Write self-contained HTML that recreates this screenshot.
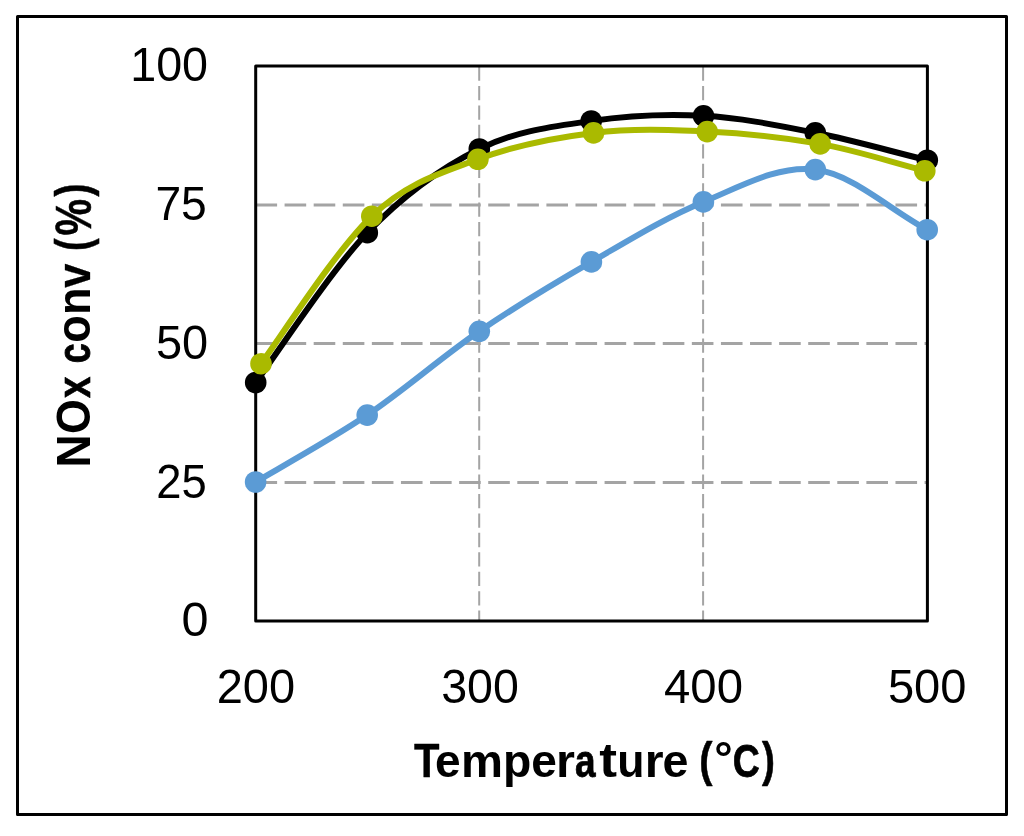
<!DOCTYPE html>
<html lang="en"><head><meta charset="utf-8"><title>NOx conversion vs temperature</title>
<style>
html,body{margin:0;padding:0;background:#fff;}
body{width:1024px;height:836px;overflow:hidden;font-family:"Liberation Sans",sans-serif;}
svg{display:block;}
svg text{font-family:"Liberation Sans",sans-serif;fill:#000;}
</style></head>
<body>
<svg width="1024" height="836" viewBox="0 0 1024 836">
<rect x="0" y="0" width="1024" height="836" fill="#fff"/>
<rect x="17.5" y="16.4" width="989" height="798.1" fill="none" stroke="#000" stroke-width="3" stroke-linejoin="round"/>
<g stroke="#a4a4a4" fill="none">
<line x1="255.50" y1="482.40" x2="927.40" y2="482.40" stroke-width="3" stroke-dasharray="21.6 7.49"/>
<line x1="255.50" y1="343.55" x2="927.40" y2="343.55" stroke-width="3" stroke-dasharray="21.6 7.49"/>
<line x1="255.50" y1="205.05" x2="927.40" y2="205.05" stroke-width="3" stroke-dasharray="21.6 7.49"/>
<line x1="479.20" y1="66.55" x2="479.20" y2="621.10" stroke-width="2" stroke-dasharray="14.3 5.13"/>
<line x1="703.10" y1="66.55" x2="703.10" y2="621.10" stroke-width="2" stroke-dasharray="14.3 5.13"/>
</g>
<rect x="255.70" y="66.10" width="671.70" height="555.00" fill="none" stroke="#000" stroke-width="3" stroke-linejoin="round"/>
<path d="M255.70,382.50 C274.30,357.53 330.03,271.62 367.30,232.70 C404.57,193.78 441.98,167.62 479.30,149.00 C516.62,130.38 553.83,126.53 591.20,121.00 C628.57,115.47 666.15,113.83 703.50,115.80 C740.85,117.77 778.00,125.40 815.30,132.80 C852.60,140.20 890.34,151.16 927.30,160.20" fill="none" stroke="#000000" stroke-width="6" stroke-linecap="round" stroke-linejoin="round"/>
<circle cx="255.70" cy="382.50" r="10.8" fill="#000000"/>
<circle cx="367.30" cy="232.70" r="10.8" fill="#000000"/>
<circle cx="479.30" cy="149.00" r="10.8" fill="#000000"/>
<circle cx="591.20" cy="121.00" r="10.8" fill="#000000"/>
<circle cx="703.50" cy="115.80" r="10.8" fill="#000000"/>
<circle cx="815.30" cy="132.80" r="10.8" fill="#000000"/>
<circle cx="927.30" cy="160.20" r="10.8" fill="#000000"/>
<path d="M261.00,363.70 C279.47,339.12 335.65,250.27 371.80,216.20 C407.95,182.13 440.95,173.18 477.90,159.30 C514.85,145.42 555.28,137.52 593.50,132.90 C631.72,128.28 669.42,129.77 707.20,131.60 C744.98,133.43 783.93,137.37 820.20,143.90 C856.47,150.43 890.28,161.92 924.80,170.80" fill="none" stroke="#aaba00" stroke-width="6" stroke-linecap="round" stroke-linejoin="round"/>
<circle cx="261.00" cy="363.70" r="10.8" fill="#aaba00"/>
<circle cx="371.80" cy="216.20" r="10.8" fill="#aaba00"/>
<circle cx="477.90" cy="159.30" r="10.8" fill="#aaba00"/>
<circle cx="593.50" cy="132.90" r="10.8" fill="#aaba00"/>
<circle cx="707.20" cy="131.60" r="10.8" fill="#aaba00"/>
<circle cx="820.20" cy="143.90" r="10.8" fill="#aaba00"/>
<circle cx="924.80" cy="170.80" r="10.8" fill="#aaba00"/>
<path d="M255.60,482.00 C274.20,470.85 329.92,440.22 367.20,415.10 C404.48,389.98 441.93,356.83 479.30,331.30 C516.67,305.77 554.05,283.47 591.40,261.90 C628.75,240.33 666.08,217.28 703.40,201.90 C740.72,186.52 778.00,164.97 815.30,169.60 C852.60,174.23 890.27,209.87 927.20,229.70" fill="none" stroke="#5b9bd5" stroke-width="6" stroke-linecap="round" stroke-linejoin="round"/>
<circle cx="255.60" cy="482.00" r="10.8" fill="#5b9bd5"/>
<circle cx="367.20" cy="415.10" r="10.8" fill="#5b9bd5"/>
<circle cx="479.30" cy="331.30" r="10.8" fill="#5b9bd5"/>
<circle cx="591.40" cy="261.90" r="10.8" fill="#5b9bd5"/>
<circle cx="703.40" cy="201.90" r="10.8" fill="#5b9bd5"/>
<circle cx="815.30" cy="169.60" r="10.8" fill="#5b9bd5"/>
<circle cx="927.20" cy="229.70" r="10.8" fill="#5b9bd5"/>
<g style="filter:grayscale(1)">
<text transform="translate(130.198,80.521) scale(0.9744,1.0000)" font-size="47.915" font-weight="normal">100</text>
<text transform="translate(155.375,219.920) scale(0.9618,1.0000)" font-size="48.029" font-weight="normal">75</text>
<text transform="translate(155.921,358.618) scale(0.9746,1.0000)" font-size="48.198" font-weight="normal">50</text>
<text transform="translate(156.230,497.522) scale(0.9501,1.0000)" font-size="47.774" font-weight="normal">25</text>
<text transform="translate(181.557,636.222) scale(1.0170,1.0000)" font-size="47.774" font-weight="normal">0</text>
<text transform="translate(216.649,702.825) scale(0.9902,1.0000)" font-size="47.491" font-weight="normal">200</text>
<text transform="translate(441.153,702.825) scale(0.9811,1.0000)" font-size="47.491" font-weight="normal">300</text>
<text transform="translate(664.035,702.825) scale(0.9968,1.0000)" font-size="47.491" font-weight="normal">400</text>
<text transform="translate(887.916,702.825) scale(0.9919,1.0000)" font-size="47.491" font-weight="normal">500</text>
<text transform="translate(413.888,776.995) scale(0.8683,0.9906)" font-size="48.000" font-weight="bold" stroke="#000" stroke-width="0.41" stroke-linejoin="round" vector-effect="non-scaling-stroke">T</text>
<text transform="translate(435.060,777.232) scale(0.9585,0.9741)" font-size="48.000" font-weight="bold">e</text>
<text transform="translate(460.931,777.200) scale(0.9836,0.9729)" font-size="48.000" font-weight="bold">m</text>
<text transform="translate(502.888,776.806) scale(0.9653,0.9532)" font-size="48.000" font-weight="bold">p</text>
<text transform="translate(531.160,777.232) scale(0.9585,0.9741)" font-size="48.000" font-weight="bold">e</text>
<text transform="translate(555.934,777.200) scale(1.0148,0.9729)" font-size="48.000" font-weight="bold">r</text>
<text transform="translate(574.946,776.890) scale(0.7703,0.9471)" font-size="48.000" font-weight="bold" stroke="#000" stroke-width="0.71" stroke-linejoin="round" vector-effect="non-scaling-stroke">a</text>
<text transform="translate(599.133,777.345) scale(1.1111,0.9848)" font-size="48.000" font-weight="bold">t</text>
<text transform="translate(617.315,777.233) scale(0.9283,0.9729)" font-size="48.000" font-weight="bold">u</text>
<text transform="translate(644.655,777.200) scale(1.0081,0.9729)" font-size="48.000" font-weight="bold">r</text>
<text transform="translate(662.535,777.232) scale(0.9715,0.9741)" font-size="48.000" font-weight="bold">e</text>
<text transform="translate(699.154,775.831) scale(0.8274,0.9969)" font-size="48.000" font-weight="bold" stroke="#000" stroke-width="0.48" stroke-linejoin="round" vector-effect="non-scaling-stroke">(</text>
<text transform="translate(714.326,772.964) scale(0.9600,0.9282)" font-size="48.000" font-weight="bold">°</text>
<text transform="translate(732.748,776.886) scale(0.7796,0.9779)" font-size="48.000" font-weight="bold" stroke="#000" stroke-width="0.69" stroke-linejoin="round" vector-effect="non-scaling-stroke">C</text>
<text transform="translate(761.968,775.817) scale(0.8088,0.9958)" font-size="48.000" font-weight="bold" stroke="#000" stroke-width="0.53" stroke-linejoin="round" vector-effect="non-scaling-stroke">)</text>
<text transform="translate(90.100,467.502) rotate(-90) scale(0.9574,0.9970)" font-size="48.000" font-weight="bold">N</text>
<text transform="translate(90.412,433.890) rotate(-90) scale(0.9323,1.0159)" font-size="48.000" font-weight="bold">O</text>
<text transform="translate(89.895,398.084) rotate(-90) scale(0.8021,0.9633)" font-size="48.000" font-weight="bold" stroke="#000" stroke-width="0.61" stroke-linejoin="round" vector-effect="non-scaling-stroke">x</text>
<text transform="translate(90.048,363.139) rotate(-90) scale(0.7444,0.9635)" font-size="48.000" font-weight="bold" stroke="#000" stroke-width="0.78" stroke-linejoin="round" vector-effect="non-scaling-stroke">c</text>
<text transform="translate(90.423,342.710) rotate(-90) scale(0.9429,0.9932)" font-size="48.000" font-weight="bold">o</text>
<text transform="translate(90.100,314.922) rotate(-90) scale(0.9364,0.9806)" font-size="48.000" font-weight="bold">n</text>
<text transform="translate(89.950,287.667) rotate(-90) scale(0.9021,0.9716)" font-size="48.000" font-weight="bold" stroke="#000" stroke-width="0.30" stroke-linejoin="round" vector-effect="non-scaling-stroke">v</text>
<text transform="translate(88.803,250.906) rotate(-90) scale(0.7902,0.9946)" font-size="48.000" font-weight="bold" stroke="#000" stroke-width="0.58" stroke-linejoin="round" vector-effect="non-scaling-stroke">(</text>
<text transform="translate(90.502,235.498) rotate(-90) scale(0.8567,1.0214)" font-size="48.000" font-weight="bold" stroke="#000" stroke-width="0.46" stroke-linejoin="round" vector-effect="non-scaling-stroke">%</text>
<text transform="translate(88.823,196.543) rotate(-90) scale(0.8177,0.9962)" font-size="48.000" font-weight="bold" stroke="#000" stroke-width="0.51" stroke-linejoin="round" vector-effect="non-scaling-stroke">)</text>
</g>
</svg>
</body></html>
